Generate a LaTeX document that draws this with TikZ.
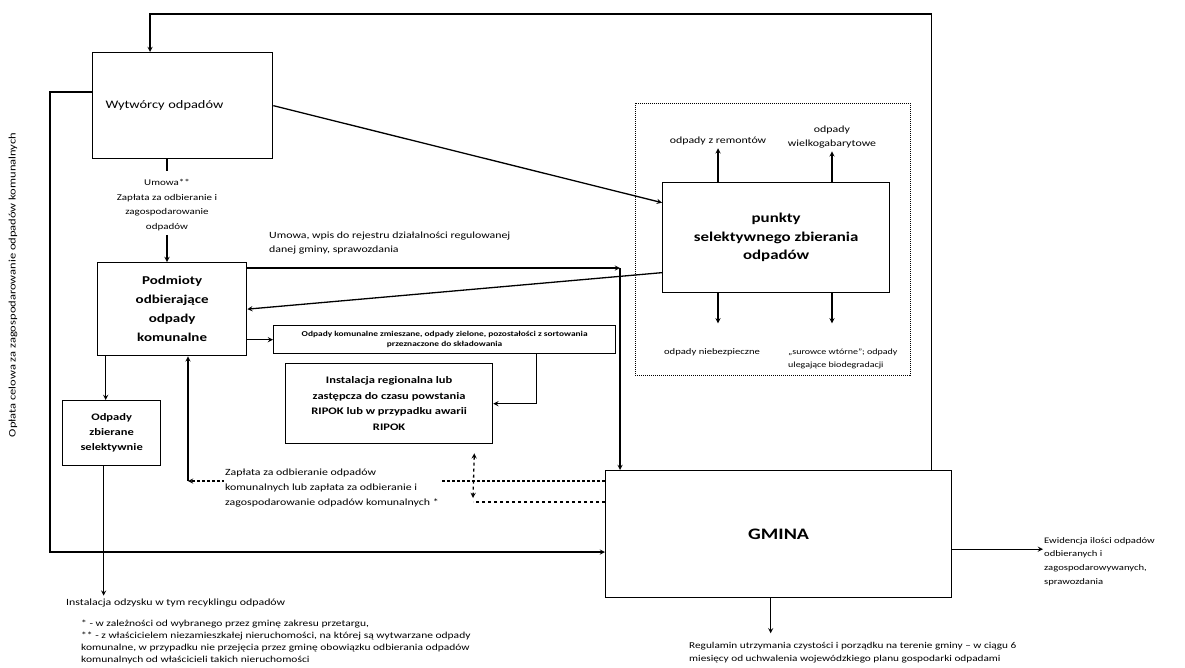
\documentclass[tikz,border=0pt]{standalone}
\usepackage{fontspec}
\setmainfont[FakeStretch=1.25]{Carlito}

\tikzset{
  box/.style={draw, line width=1.3pt, anchor=north west, align=center, inner sep=2pt},
  arr/.style={->, >=stealth, line width=1.3pt},
  lbl/.style={align=center, inner sep=1pt, font=\fontsize{9.5}{14}\selectfont},
}

\begin{document}
\begin{tikzpicture}[x=1pt, y=-1pt]
    \useasboundingbox (0,0) rectangle (1185,667);

    % Draw boxes
    \node[box, minimum width=180pt, minimum height=106pt, text width=176pt, align=left, font=\fontsize{11.5}{15}\selectfont] (wytw) at (92,52) {\hspace*{11pt}Wytwórcy odpadów};
    \node[box, minimum width=149pt, minimum height=93pt, font=\bfseries\fontsize{12}{19}\selectfont] (podm) at (97,262) {Podmioty\\odbierające\\odpady\\komunalne};
    \node[box, minimum width=98pt, minimum height=65pt, font=\bfseries\fontsize{10}{15}\selectfont] (selek) at (62,400) {Odpady\\zbierane\\selektywnie};
    \node[box, minimum width=342pt, minimum height=28pt, inner sep=1pt, font=\bfseries\fontsize{7.5}{10}\selectfont] (odpk) at (273,325) {Odpady komunalne zmieszane, odpady zielone, pozostałości z sortowania\\przeznaczone do składowania};
    \node[box, minimum width=207pt, minimum height=80pt, font=\bfseries\fontsize{10}{15.5}\selectfont] (ripok) at (285,363) {Instalacja regionalna lub\\zastępcza do czasu powstania\\RIPOK lub w przypadku awarii\\RIPOK};
    \node[box, minimum width=227pt, minimum height=110pt, font=\bfseries\fontsize{13.5}{18.5}\selectfont] (punkt) at (662,182) {punkty\\selektywnego zbierania\\odpadów};
    \node[box, minimum width=346pt, minimum height=127pt, font=\bfseries\fontsize{16}{18}\selectfont] (gmina) at (605,470) {GMINA};

    % Draw dotted frame round the collection points
    \draw[densely dotted, line width=1pt] (635,103) rectangle (910,375);

    % Labels
    \node[lbl, font=\fontsize{8.8}{14.5}\selectfont] (umowa) at (167,205) {Umowa**\\Zapłata za odbieranie i\\zagospodarowanie\\odpadów};
    \node[lbl, align=left, anchor=west] (rejestr) at (268,243) {Umowa, wpis do rejestru działalności regulowanej\\danej gminy, sprawozdania};
    \node[lbl, anchor=west] (instal) at (65,603) {Instalacja odzysku w tym recyklingu odpadów};
    \node[lbl, align=left, anchor=north west, font=\fontsize{9.2}{12}\selectfont] (przyp) at (80,619) {* - w zależności od wybranego przez gminę zakresu przetargu,\\** - z właścicielem niezamieszkałej nieruchomości, na której są wytwarzane odpady\\komunalne, w przypadku nie przejęcia przez gminę obowiązku odbierania odpadów\\komunalnych od właścicieli takich nieruchomości};
    \node[lbl] (remont) at (718,141) {odpady z remontów};
    \node[lbl] (wielko) at (832,137) {odpady\\wielkogabarytowe};
    \node[lbl, font=\fontsize{8.5}{13}\selectfont] (niebez) at (712,352) {odpady niebezpieczne};
    \node[lbl, align=left, anchor=west, font=\fontsize{8}{13}\selectfont] (surow) at (787,359) {„surowce wtórne”; odpady\\ulegające biodegradacji};
    \node[lbl, align=left, anchor=north west, font=\fontsize{8.5}{13.7}\selectfont] (ewid) at (1043,536) {Ewidencja ilości odpadów\\odbieranych i\\zagospodarowywanych,\\sprawozdania};
    \node[lbl, align=left, anchor=north west, font=\fontsize{9}{13}\selectfont] (regul) at (688,641) {Regulamin utrzymania czystości i porządku na terenie gminy – w ciągu 6\\miesięcy od uchwalenia wojewódzkiego planu gospodarki odpadami};
    \node[lbl, rotate=90, font=\fontsize{10}{12}\selectfont] (oplata) at (13,285) {Opłata celowa za zagospodarowanie odpadów komunalnych};

    % Draw connectors
    \coordinate (top) at (150,14);
    \draw[arr] ([xshift=-21pt]gmina.north east) |- (top) -- (top |- wytw.north);
    \draw[arr] (wytw.east) -- ([yshift=35pt]punkt.west);
    \draw[arr] ([yshift=-40pt]wytw.north west) -- ++(-42,0) |- ([yshift=-82pt]gmina.north west);

    \draw[line width=1.3pt] (wytw.south -| umowa) -- ++(0,12);
    \draw[arr] ([yshift=-3pt]umowa.south) -- (umowa.south |- podm.north);

    \coordinate (junc) at (620,268);
    \draw[arr] ([yshift=-6pt]podm.north east) -- (junc);
    \draw[arr] (junc) -- (junc |- gmina.north);
    \draw[arr] ([yshift=-35pt]punkt.west) -- (podm.east);
    \draw[arr] (podm.east |- odpk.west) -- (odpk.west);
    \draw[arr] ([xshift=-80pt]odpk.south east) |- (ripok.east);

    \draw[arr] ([xshift=-6pt]podm.south -| selek.north) -- ([xshift=-6pt]selek.north);
    \draw[arr] ([xshift=-8pt]selek.south) -- ([xshift=-8pt,yshift=2pt]selek.south |- instal.north);

    % Payment and dashed connectors
    \coordinate (payc) at (188,481);
    \draw[arr, dash pattern=on 3pt off 2pt] ([yshift=-11pt]gmina.north west) -- (payc);
    \draw[arr] (payc) -- (payc |- podm.south);
    \node[lbl, align=left, anchor=west, fill=white, font=\fontsize{9.5}{15}\selectfont] (zapl) at (224,488) {Zapłata za odbieranie odpadów\\komunalnych lub zapłata za odbieranie i\\zagospodarowanie odpadów komunalnych *};
    \coordinate (ripd) at (473,502);
    \draw[line width=1.3pt, dash pattern=on 3pt off 3pt] (gmina.west |- ripd) -- (ripd);
    \draw[arr, <->, dash pattern=on 3pt off 3pt] ([xshift=-19pt,yshift=-9pt]ripok.south east) -- ([yshift=4pt]ripd);

    % Collection point outputs
    \draw[arr] (punkt.north -| remont) -- ([yshift=-2pt]remont.south);
    \draw[arr] (punkt.north -| wielko) -- ([yshift=-2pt]wielko.south);
    \draw[arr] ([xshift=6pt]punkt.south -| niebez) -- ++(0,30);
    \draw[arr] (punkt.south -| wielko) -- ++(0,30);

    % GMINA outputs
    \draw[arr] ([yshift=-15pt]gmina.east) -- ([yshift=-15pt]gmina.east -| ewid.west);
    \draw[arr] ([xshift=-8pt]gmina.south) -- ++(0,35);

\end{tikzpicture}
\end{document}
